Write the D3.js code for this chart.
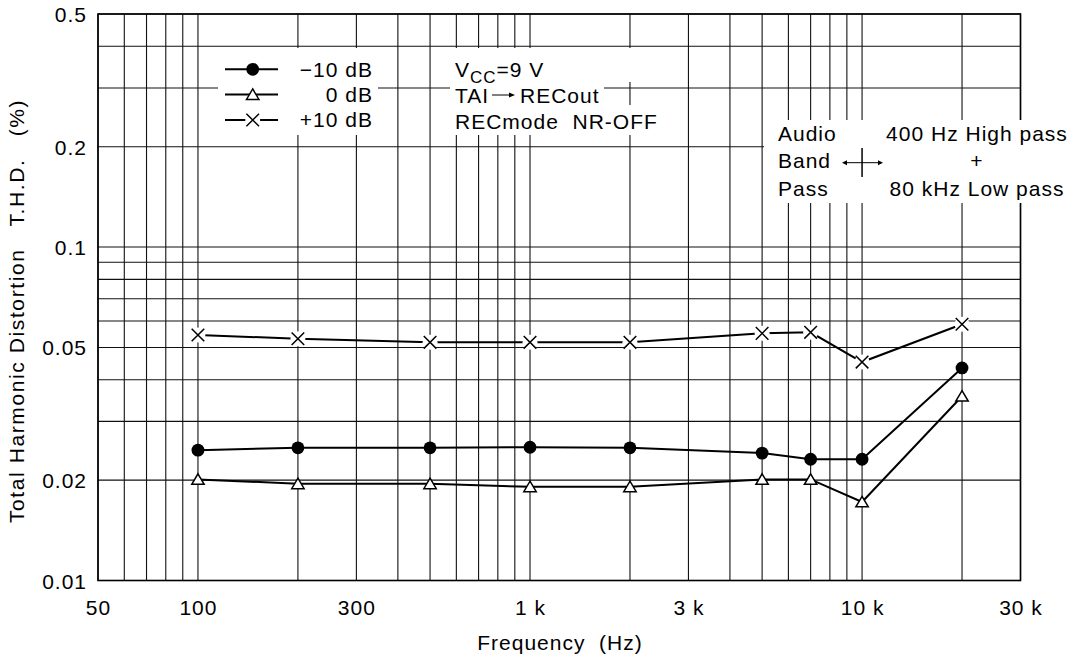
<!DOCTYPE html>
<html>
<head>
<meta charset="utf-8">
<script src="https://cdn.jsdelivr.net/npm/d3@7"></script>
<style>
  body { margin: 0; background: #fff; }
  text { font-family: "Liberation Sans", Arial, sans-serif; font-size: 21px; letter-spacing: 1px; fill: #000; white-space: pre; }
</style>
</head>
<body>
<svg width="1086" height="657"></svg>
<script>
// data
let freqs = [100, 200, 500, 1000, 2000, 5000, 7000, 10000, 20000];
let thdMinus10 = [0.0246, 0.0250, 0.0250, 0.0251, 0.0250, 0.0241, 0.0231, 0.0231, 0.0434];
let thd0 = [0.0201, 0.0195, 0.0195, 0.0191, 0.0191, 0.0201, 0.0201, 0.0172, 0.0357];
let thdPlus10 = [0.0545, 0.0531, 0.0518, 0.0518, 0.0518, 0.0551, 0.0555, 0.0452, 0.0587];

let xTickValues = [50, 100, 300, 1000, 3000, 10000, 30000];
let xTickLabels = ["50", "100", "300", "1 k", "3 k", "10 k", "30 k"];
let yTickValues = [0.5, 0.2, 0.1, 0.05, 0.02, 0.01];
let yTickLabels = ["0.5", "0.2", "0.1", "0.05", "0.02", "0.01"];

let seriesNames = ["\u221210 dB", "0 dB", "+10 dB"];

let svg = d3.select("svg");
let plotL = 98, plotR = 1020.5, plotT = 14, plotB = 580.5;

let x = d3.scaleLog().domain([50, 30000]).range([plotL, plotR]);
let y = d3.scaleLog().domain([0.01, 0.5]).range([plotB, plotT]);

// grid
let grid = svg.append("g").attr("stroke", "#111").attr("stroke-width", 1.1);
grid.selectAll(".vx").data(x.ticks()).enter().append("line")
    .attr("x1", d => x(d)).attr("x2", d => x(d))
    .attr("y1", plotT).attr("y2", plotB);
grid.selectAll(".hy").data(y.ticks()).enter().append("line")
    .attr("x1", plotL).attr("x2", plotR)
    .attr("y1", d => y(d)).attr("y2", d => y(d));

// frame
svg.append("rect")
    .attr("x", plotL).attr("y", plotT)
    .attr("width", plotR - plotL).attr("height", plotB - plotT)
    .attr("fill", "none").attr("stroke", "#000").attr("stroke-width", 1.6);

// white patches behind the legend and notes
let patches = [
    [218, 48, 160, 87],
    [450, 48, 195, 34],
    [450, 82, 154, 23],
    [450, 105, 195, 30],
    [764, 120, 316, 83]
];
svg.selectAll(".patch").data(patches).enter().append("rect")
    .attr("x", d => d[0]).attr("y", d => d[1])
    .attr("width", d => d[2]).attr("height", d => d[3])
    .attr("fill", "#fff");

// axes
let xAxis = d3.axisBottom(x).tickValues(xTickValues)
    .tickFormat((d, i) => xTickLabels[i]).tickSize(0).tickPadding(0);
let gx = svg.append("g").attr("transform", "translate(0," + 615 + ")").call(xAxis);
gx.select(".domain").remove();
gx.selectAll("text").attr("dy", 0).attr("y", 0)
    .style("font-size", "21px").style("font-family", "Liberation Sans, Arial, sans-serif");

let yAxis = d3.axisLeft(y).tickValues(yTickValues)
    .tickFormat((d, i) => yTickLabels[i]).tickSize(0).tickPadding(0);
let gy = svg.append("g").attr("transform", "translate(" + 87 + ",0)").call(yAxis);
gy.select(".domain").remove();
gy.selectAll("text").attr("dy", 7.5).attr("x", 0)
    .style("font-size", "21px").style("font-family", "Liberation Sans, Arial, sans-serif");

svg.append("text").attr("x", 560).attr("y", 650).attr("text-anchor", "middle")
    .text("Frequency  (Hz)");
svg.append("text").attr("transform", "translate(24,311) rotate(-90)").attr("text-anchor", "middle")
    .style("letter-spacing", "1.6px")
    .text("Total Harmonic Distortion   T.H.D.   (%)");

// series
let series = [
    { name: seriesNames[0], values: thdMinus10, mark: "dot" },
    { name: seriesNames[1], values: thd0, mark: "tri" },
    { name: seriesNames[2], values: thdPlus10, mark: "cross" }
];

function drawMark(g, kind) {
    if (kind == "dot") {
        g.append("circle").attr("r", 6.4).attr("fill", "#000");
    } else if (kind == "tri") {
        g.append("path").attr("d", "M0,-5.6L6.2,4.9L-6.2,4.9Z")
            .attr("fill", "#fff").attr("stroke", "#000").attr("stroke-width", 1.5);
    } else {
        g.append("circle").attr("r", 7.5).attr("fill", "#fff");
        g.append("path").attr("d", "M-6.3,-6.3L6.3,6.3M-6.3,6.3L6.3,-6.3")
            .attr("stroke", "#000").attr("stroke-width", 1.5).attr("fill", "none");
    }
}

let line = d3.line().x(d => x(d[0])).y(d => y(d[1]));
series.forEach(function(s) {
    let pts = freqs.map((f, i) => [f, s.values[i]]);
    svg.append("path").datum(pts)
        .attr("d", line)
        .attr("fill", "none").attr("stroke", "#000").attr("stroke-width", 2);
    pts.forEach(function(p) {
        let g = svg.append("g").attr("transform", "translate(" + x(p[0]) + "," + y(p[1]) + ")");
        drawMark(g, s.mark);
    });
});

// legend
let legRows = [69.3, 94.5, 120];
series.forEach(function(s, i) {
    svg.append("line").attr("x1", 225).attr("x2", 278)
        .attr("y1", legRows[i]).attr("y2", legRows[i])
        .attr("stroke", "#000").attr("stroke-width", 2);
    let g = svg.append("g").attr("transform", "translate(252.7," + legRows[i] + ")");
    drawMark(g, s.mark);
    svg.append("text").attr("x", 373).attr("y", legRows[i] + 7.3)
        .attr("text-anchor", "end").text(s.name);
});

// conditions
let vcc = svg.append("text").attr("x", 455).attr("y", 76.5);
vcc.append("tspan").text("V");
vcc.append("tspan").attr("dy", 6).style("font-size", "17px").text("CC");
vcc.append("tspan").attr("dy", -6).text("=9 V");

svg.append("text").attr("x", 455).attr("y", 103.3).text("TAI");
svg.append("line").attr("x1", 492).attr("x2", 510).attr("y1", 95).attr("y2", 95)
    .attr("stroke", "#000").attr("stroke-width", 1);
svg.append("path").attr("d", "M509,92.5L515,95L509,97.5Z").attr("fill", "#000");
svg.append("text").attr("x", 520).attr("y", 103.3).text("RECout");
svg.append("text").attr("x", 455).attr("y", 128.5).text("RECmode  NR-OFF");

// audio band note
let bandRows = [141, 168.3, 196];
let bandLeft = ["Audio", "Band", "Pass"];
let bandRight = ["400 Hz High pass", "+", "80 kHz Low pass"];
bandRows.forEach(function(b, i) {
    svg.append("text").attr("x", 778).attr("y", b).text(bandLeft[i]);
    svg.append("text").attr("x", 977).attr("y", b).attr("text-anchor", "middle").text(bandRight[i]);
});
svg.append("line").attr("x1", 846).attr("x2", 879).attr("y1", 162.7).attr("y2", 162.7)
    .attr("stroke", "#000").attr("stroke-width", 1);
svg.append("path").attr("d", "M842,162.7L847,160.2L847,165.2Z").attr("fill", "#000");
svg.append("path").attr("d", "M883,162.7L878,160.2L878,165.2Z").attr("fill", "#000");
svg.append("line").attr("x1", x(10000)).attr("x2", x(10000)).attr("y1", 148).attr("y2", 177)
    .attr("stroke", "#000").attr("stroke-width", 1.5);
</script>
</body>
</html>
